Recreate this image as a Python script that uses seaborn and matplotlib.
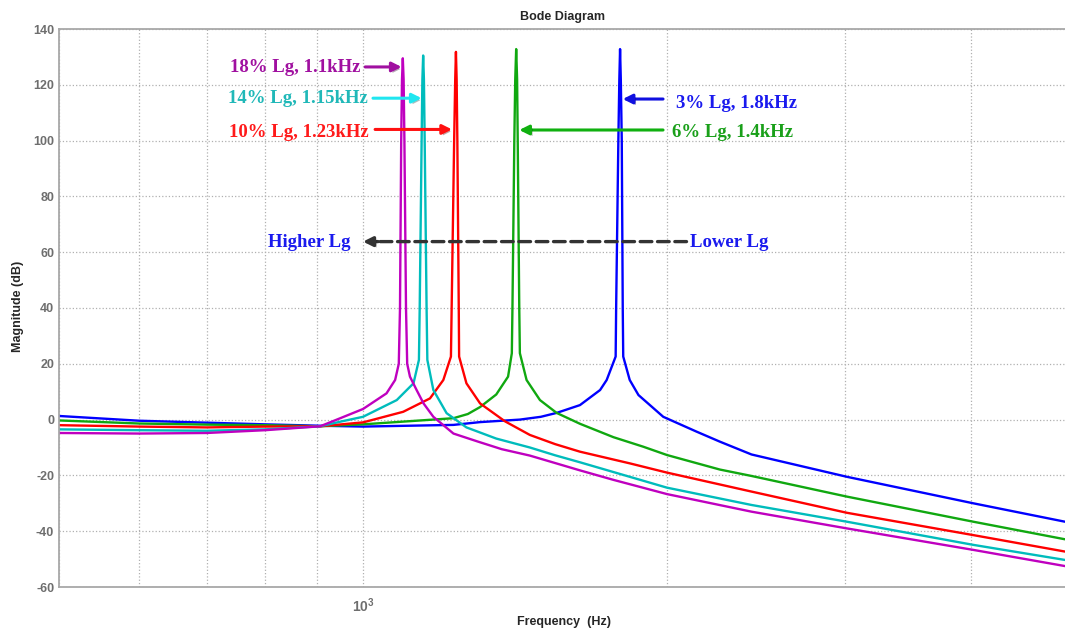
import matplotlib
matplotlib.use("Agg")
import matplotlib.pyplot as plt
import matplotlib.ticker as ticker
import matplotlib.patheffects as pe
import seaborn as sns
import pandas as pd

# ---------------------------------------------------------------------------
# Data (frequency in Hz, magnitude in dB)
# ---------------------------------------------------------------------------
F_3 = [500, 600, 700, 800, 907, 1000, 1229, 1306, 1430, 1500, 1555, 1640, 1717,
       1743, 1779, 1781, 1790, 1794, 1797, 1800, 1804, 1808, 1810, 1837, 1874,
       1983, 2139, 2256, 2425, 3014, 4021, 4956]
M_3 = [1.3, -0.4, -1.1, -1.7, -2.2, -2.5, -1.9, -0.9, 0.0, 1.0, 2.4, 5.2, 10.6,
       14.2, 22.6, 40.0, 100.0, 122.0, 132.8, 122.0, 100.0, 40.0, 22.6, 14.2, 8.8,
       1.0, -4.3, -7.9, -12.5, -20.5, -30.0, -36.6]

F_6 = [500, 600, 700, 800, 907, 1000, 1229, 1270, 1306, 1355, 1392, 1404, 1406,
       1412, 1415, 1418, 1421, 1423, 1428, 1430, 1452, 1497, 1555, 1640, 1770,
       1894, 2000, 2256, 2425, 3014, 4021, 4956]
M_6 = [-0.3, -1.4, -1.8, -2.0, -2.4, -1.7, 0.5, 2.0, 4.5, 9.0, 15.4, 23.8, 40.0,
       100.0, 122.0, 132.8, 122.0, 100.0, 40.0, 23.8, 14.2, 7.0, 2.4, -1.5, -6.3,
       -9.7, -12.7, -17.9, -20.2, -27.6, -36.6, -42.9]

F_10 = [500, 600, 700, 800, 907, 1000, 1096, 1165, 1201, 1222, 1224, 1231, 1234,
        1236, 1238, 1240, 1244, 1245, 1266, 1306, 1382, 1463, 1550, 1640, 1838,
        2000, 2425, 3014, 4021, 4956]
M_10 = [-2.0, -2.5, -2.8, -2.5, -2.4, -1.0, 2.8, 7.6, 14.2, 22.6, 40.0, 100.0, 122.0,
        131.8, 122.0, 100.0, 40.0, 22.6, 13.0, 5.8, -0.6, -5.5, -8.8, -11.5, -15.7,
        -19.0, -25.8, -33.4, -41.4, -47.3]

F_14 = [500, 600, 700, 800, 907, 948, 1000, 1080, 1122, 1136, 1138, 1143, 1145,
        1147, 1149, 1151, 1156, 1158, 1174, 1210, 1266, 1355, 1463, 1550, 1640,
        2000, 2425, 3014, 4021, 4956]
M_14 = [-3.5, -3.8, -4.0, -3.5, -2.4, -0.8, 1.0, 7.0, 13.0, 21.4, 40.0, 100.0, 122.0,
        130.5, 122.0, 100.0, 40.0, 21.4, 10.6, 2.3, -2.8, -6.8, -10.0, -12.8, -15.3,
        -24.4, -30.6, -36.6, -44.9, -50.3]

F_18 = [500, 600, 700, 800, 907, 948, 1000, 1055, 1076, 1085, 1088, 1091, 1093,
        1095, 1097, 1099, 1103, 1106, 1113, 1130, 1148, 1174, 1229, 1300, 1372,
        1463, 1640, 1770, 2000, 2425, 3014, 4021, 4956]
M_18 = [-4.8, -5.0, -4.8, -3.8, -2.4, 0.4, 3.8, 9.4, 14.2, 20.0, 40.0, 100.0, 122.0,
        129.5, 122.0, 100.0, 40.0, 20.0, 15.4, 10.6, 5.8, 1.0, -5.0, -7.9, -10.6,
        -12.9, -18.2, -21.6, -26.7, -33.0, -39.0, -46.7, -52.5]

CASES = ["3%", "6%", "10%", "14%", "18%"]
LINE_COLORS = {"3%": "#0000ff", "6%": "#10a810", "10%": "#ff0000",
               "14%": "#00bcbc", "18%": "#bf00bf"}

X_MINOR = [500, 600, 700, 800, 900, 2000, 3000, 4000]
Y_TICKS = list(range(-60, 141, 20))

# ---------------------------------------------------------------------------
# Style
# ---------------------------------------------------------------------------
sns.set_style("white")
plt.rcParams["font.family"] = ["Liberation Sans", "DejaVu Sans"]
plt.rcParams["axes.unicode_minus"] = False
plt.rcParams["mathtext.fontset"] = "custom"
plt.rcParams["mathtext.rm"] = "Liberation Sans"
plt.rcParams["mathtext.bf"] = "Liberation Sans:bold"

frames = []
for name, f, m in zip(CASES, [F_3, F_6, F_10, F_14, F_18],
                      [M_3, M_6, M_10, M_14, M_18]):
    frames.append(pd.DataFrame({"freq": f, "mag": m, "case": name}))
df = pd.concat(frames, ignore_index=True)

fig = plt.figure(figsize=(10.65, 6.3), dpi=100)
ax = fig.add_axes([59 / 1065, 43 / 630, 1006 / 1065, 558 / 630])
ax.set_xscale("log")

sns.lineplot(data=df, x="freq", y="mag", hue="case", hue_order=CASES,
             palette=LINE_COLORS, estimator=None, sort=False, linewidth=1.7,
             legend=False, ax=ax)

ax.set_xlim(500, 4956)
ax.set_ylim(-60, 140)
ax.set_yticks(Y_TICKS)
ax.xaxis.set_major_locator(ticker.FixedLocator([1000]))
ax.xaxis.set_major_formatter(ticker.FixedFormatter([r"$\mathbf{10^{3}}$"]))
ax.xaxis.set_minor_locator(ticker.FixedLocator(X_MINOR))
ax.xaxis.set_minor_formatter(ticker.NullFormatter())

ax.grid(which="both", linestyle=":", color="#b0b0b0", linewidth=0.9)
ax.set_axisbelow(True)
for side in ["left", "bottom", "top"]:
    ax.spines[side].set_color("#a8a8a8")
    ax.spines[side].set_linewidth(1.3)
ax.spines["right"].set_visible(False)

ax.tick_params(which="both", direction="in", color="#a8a8a8", labelcolor="#6e6e6e",
               labelsize=9, top=False, right=False)
ax.tick_params(which="major", length=4)
ax.tick_params(which="minor", length=3)
ax.tick_params(axis="x", pad=7, labelsize=10)
for lab in ax.get_yticklabels():
    lab.set_fontweight("bold")

ax.set_xlabel("")
ax.set_ylabel("")
ax.set_title("Bode Diagram", fontsize=9, fontweight="bold", pad=6.5)
fig.text(564 / 1065, 1 - 621.5 / 630, "Frequency  (Hz)", ha="center", va="center",
         fontsize=9, fontweight="bold")
fig.text(18 / 1065, 1 - 306 / 630, "Magnitude (dB)", ha="center", va="center",
         rotation=90, fontsize=9, fontweight="bold")

# ---------------------------------------------------------------------------
# Annotations
# ---------------------------------------------------------------------------
SERIF = ["Liberation Serif", "DejaVu Serif"]
shadow = [pe.SimplePatchShadow(offset=(1.5, -1.5), alpha=0.35), pe.Normal()]


def label(x, y, text, color, ha):
    ax.text(x, y, text, color=color, ha=ha, va="baseline", family=SERIF,
            fontweight="bold", fontsize=13.5)


def arrow(tail, tip, color, lw=2.2, style="-|>", ls="-"):
    ann = ax.annotate("", xy=tip, xytext=tail,
                      arrowprops=dict(arrowstyle=style, color=color, lw=lw,
                                      linestyle=ls, mutation_scale=14,
                                      shrinkA=0, shrinkB=0))
    ann.arrow_patch.set_path_effects(shadow)


label(995, 124.7, "18% Lg, 1.1kHz", "#a010a0", "right")
arrow((1005, 126.4), (1092, 126.4), "#a010a0")

label(1012, 113.4, "14% Lg, 1.15kHz", "#20b8b8", "right")
arrow((1023, 115.2), (1143, 115.2), "#20e6f0")

label(1014, 101.4, "10% Lg, 1.23kHz", "#ff1a1a", "right")
arrow((1028, 104.0), (1225, 104.0), "#ff1010")

label(2043, 111.6, "3% Lg, 1.8kHz", "#1a1aee", "left")
arrow((1982, 114.9), (1808, 114.9), "#1010e0")

label(2025, 101.4, "6% Lg, 1.4kHz", "#1aa01a", "left")
arrow((1982, 103.8), (1428, 103.8), "#10b010")

label(973, 61.8, "Higher Lg", "#1a1aee", "right")
label(2107, 61.8, "Lower Lg", "#1a1aee", "left")
arrow((2091, 63.8), (1030, 63.8), "#333333", lw=2.4, style="-", ls=(0, (3.5, 1.7)))
arrow((1035, 63.8), (1000, 63.8), "#333333", lw=2.4)

fig.savefig("out.png", dpi=100)
